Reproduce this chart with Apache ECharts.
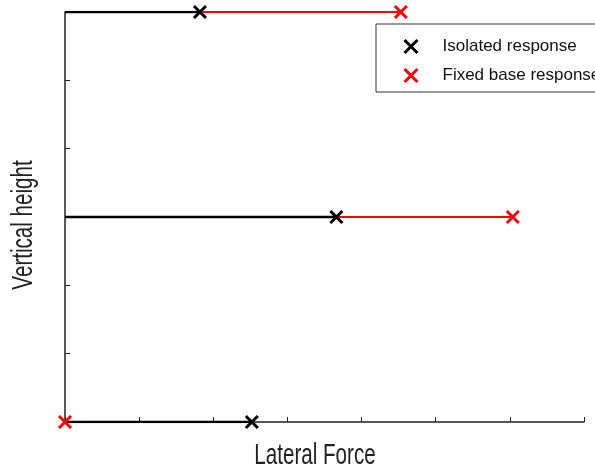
<!DOCTYPE html>
<html>
<head>
<meta charset="utf-8">
<script src="https://cdn.jsdelivr.net/npm/echarts@6/dist/echarts.min.js"></script>
<style>
  html, body { margin: 0; padding: 0; background: #fff; }
  #chart { width: 595px; height: 473px; }
</style>
</head>
<body>
<div id="chart"></div>
<script>
// Storey levels and peak lateral force at each level
const levels = [0, 3, 6];
const isolatedForce = [2.52, 3.66, 1.82];
const fixedBaseForce = [0, 6.04, 4.53];
const seriesNames = ['Isolated response', 'Fixed base response'];
const xAxisTitle = 'Lateral Force';
const yAxisTitle = 'Vertical height';

const FONT = "'Liberation Sans', Arial, sans-serif";
const CROSS = 'path://M0,0L10,10M10,0L0,10';

// one horizontal segment per level, from zero out to the peak force
function segments(forces) {
  const out = [];
  forces.forEach((f, i) => {
    out.push([0, levels[i]]);
    out.push([f, levels[i]]);
    out.push(null);
  });
  return out;
}
function points(forces) {
  return forces.map((f, i) => [f, levels[i]]);
}

// condensed axis titles
function title(text, x, y, rotation) {
  return {
    type: 'text', x: x, y: y, rotation: rotation, scaleX: 0.71, silent: true,
    style: {
      text: text, fontFamily: FONT, fontSize: 29, fill: '#222',
      align: 'center', verticalAlign: 'middle'
    }
  };
}

const chart = echarts.init(document.getElementById('chart'));
chart.setOption({
  animation: false,
  grid: { left: 65, right: 11, top: 12, bottom: 51 },
  xAxis: {
    type: 'value', min: 0, max: 7, interval: 1,
    axisLine: { show: true, lineStyle: { color: '#222', width: 1.5 } },
    axisTick: { show: true, inside: true, length: 5, lineStyle: { color: '#222', width: 1 } },
    axisLabel: { show: false },
    splitLine: { show: false }
  },
  yAxis: {
    type: 'value', min: 0, max: 6, interval: 1,
    axisLine: { show: true, lineStyle: { color: '#222', width: 1.5 } },
    axisTick: { show: true, inside: true, length: 5, lineStyle: { color: '#222', width: 1 } },
    axisLabel: { show: false },
    splitLine: { show: false }
  },
  graphic: [
    title(xAxisTitle, 315, 456, 0),
    title(yAxisTitle, 24, 225, Math.PI / 2)
  ],
  legend: {
    data: seriesNames.map(n => ({ name: n, icon: CROSS })),
    left: 376, top: 24,
    orient: 'vertical',
    itemWidth: 13, itemHeight: 13, itemGap: 12,
    padding: [14, 10, 8, 27],
    borderColor: '#333', borderWidth: 1,
    itemStyle: { borderWidth: 3 },
    textStyle: { fontFamily: FONT, fontSize: 17, color: '#111', padding: [0, 0, 0, 20] }
  },
  series: [
    {
      name: 'fixed-line', type: 'line', data: segments(fixedBaseForce),
      showSymbol: false, connectNulls: false, silent: true,
      lineStyle: { color: '#ff0000', width: 2.2 }, z: 2
    },
    {
      name: 'isolated-line', type: 'line', data: segments(isolatedForce),
      showSymbol: false, connectNulls: false, silent: true,
      lineStyle: { color: '#000', width: 2.5 }, z: 3
    },
    {
      name: seriesNames[1], type: 'scatter', data: points(fixedBaseForce),
      symbol: CROSS, symbolSize: 12,
      itemStyle: { color: '#ff0000', borderColor: '#ff0000', borderWidth: 3, opacity: 1 }, z: 4
    },
    {
      name: seriesNames[0], type: 'scatter', data: points(isolatedForce),
      symbol: CROSS, symbolSize: 12,
      itemStyle: { color: '#000', borderColor: '#000', borderWidth: 3, opacity: 1 }, z: 5
    }
  ]
});
</script>
</body>
</html>
